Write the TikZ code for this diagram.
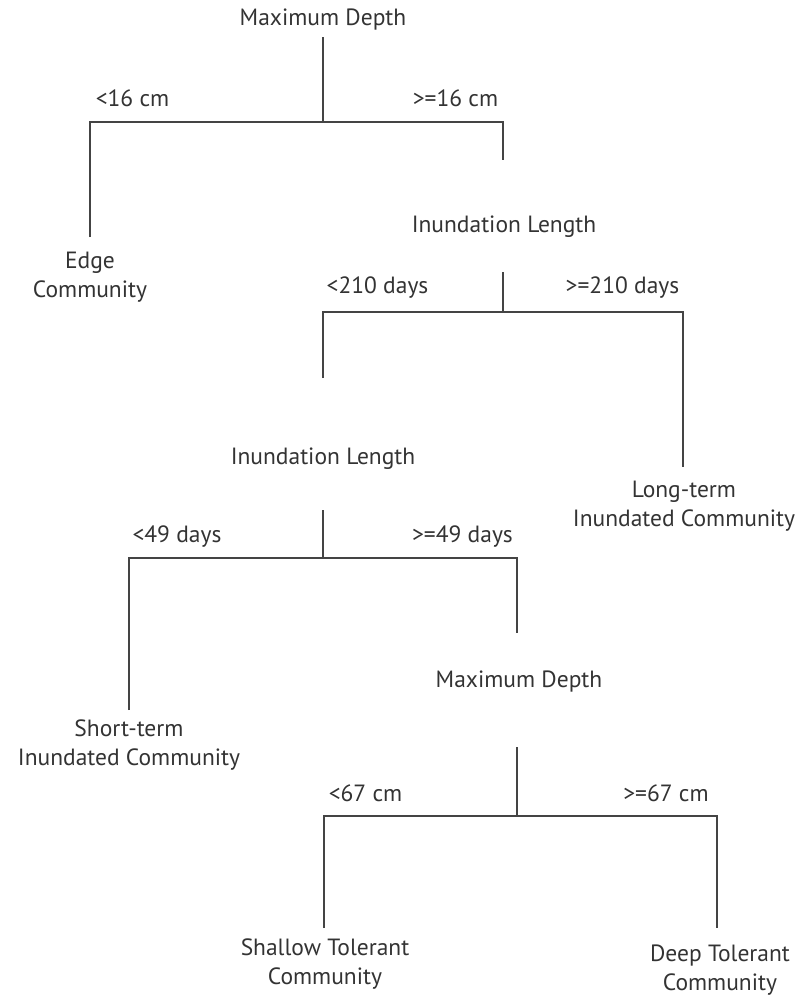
\documentclass[tikz,border=0pt]{standalone}
\usepackage{fontspec}
\setmainfont{PT Sans}
\definecolor{inkgray}{HTML}{333333}
\definecolor{linegray}{HTML}{444444}
\begin{document}
\begin{tikzpicture}[x=1pt,y=-1pt,
  every node/.style={text=inkgray,inner sep=0pt,align=center,font=\fontsize{23.5}{29}\selectfont},
  split/.style={anchor=base},
  leaf/.style={anchor=center},
  cond/.style={anchor=base},
  branch/.style={draw=linegray,line width=1.5pt}]
  \useasboundingbox (0,0) rectangle (804,997);
  % split nodes
  \node[split] (md1) at (323,25) {Maximum Depth};
  \node[split] (il1) at (504,232) {Inundation Length};
  \node[split] (il2) at (323,464) {Inundation Length};
  \node[split] (md2) at (519,687) {Maximum Depth};
  % leaves
  \node[leaf] (edge) at (90,277.5) {Edge\\Community};
  \node[leaf] (longterm) at (684,506) {Long-term\\Inundated Community};
  \node[leaf] (shortterm) at (129,745) {Short-term\\Inundated Community};
  \node[leaf] (shallow) at (325,964.5) {Shallow Tolerant\\Community};
  \node[leaf] (deep) at (720,970) {Deep Tolerant\\Community};
  % stems and junctions
  \coordinate (md1s) at (323,37);  \coordinate (md1j) at (323,122);
  \coordinate (il1s) at (503,272); \coordinate (il1j) at (503,312);
  \coordinate (il2s) at (323,510); \coordinate (il2j) at (323,558);
  \coordinate (md2s) at (517,747); \coordinate (md2j) at (517,816);
  \coordinate (edget) at (90,237);   \coordinate (il1t) at (503,160);
  \coordinate (il2t) at (323,378);   \coordinate (longt) at (683,467);
  \coordinate (shortt) at (129,710); \coordinate (md2t) at (517,633);
  \coordinate (shallowt) at (324,928); \coordinate (deept) at (717,928);
  \draw[branch] (md1s) -- (md1j);
  \draw[branch] (edget) |- (md1j) -| (il1t);
  \draw[branch] (il1s) -- (il1j);
  \draw[branch] (il2t) |- (il1j) -| (longt);
  \draw[branch] (il2s) -- (il2j);
  \draw[branch] (shortt) |- (il2j) -| (md2t);
  \draw[branch] (md2s) -- (md2j);
  \draw[branch] (shallowt) |- (md2j) -| (deept);
  % conditions
  \node[cond] (lt16) at (132.5,106) {<16 cm};
  \node[cond] (ge16) at (455.5,106) {>=16 cm};
  \node[cond] (lt210) at (377.5,293) {<210 days};
  \node[cond] (ge210) at (622.5,293) {>=210 days};
  \node[cond] (lt49) at (177,542) {<49 days};
  \node[cond] (ge49) at (462.5,542) {>=49 days};
  \node[cond] (lt67) at (365.5,801) {<67 cm};
  \node[cond] (ge67) at (666,801) {>=67 cm};
\end{tikzpicture}
\end{document}
